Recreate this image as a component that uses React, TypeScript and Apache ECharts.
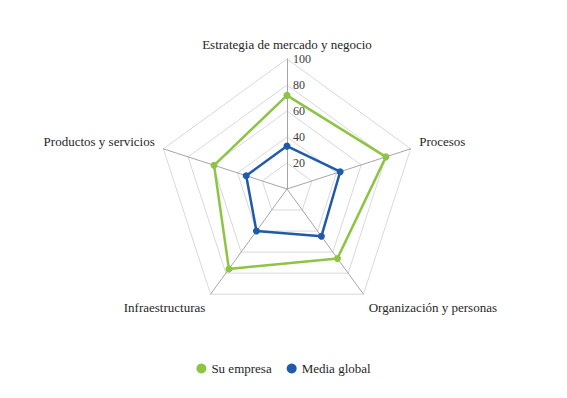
import React, { useEffect, useRef } from "react";
import * as echarts from "echarts";

const categories = [
  "Estrategia de mercado y negocio",
  "Procesos",
  "Organización y personas",
  "Infraestructuras",
  "Productos y servicios",
];
const suEmpresa = [72, 80, 66, 76, 59];
const mediaGlobal = [33, 43, 45, 40, 33];
const seriesNames = ["Su empresa", "Media global"];
const maxValue = 100;

const GREEN = "#8DC444";
const BLUE = "#1F5BAA";
const FONT = "Liberation Serif";
const NAME_COLOR = "#262626";

// ECharts draws radar axes counter-clockwise; reorder so the categories run clockwise.
const order = [0, 4, 3, 2, 1];
const reorder = (arr: any[]) => order.map((i) => arr[i]);
// rich style key for each original category (vertical nudging of the axis names)
const nameStyleKey = ["t", "up", "down", "down", "up"];

const nameRich = {
  t: { fontFamily: FONT, fontSize: 13, color: NAME_COLOR },
  up: { fontFamily: FONT, fontSize: 13, color: NAME_COLOR, padding: [0, 0, 10, 0] },
  down: { fontFamily: FONT, fontSize: 13, color: NAME_COLOR, padding: [13, 0, 0, 0] },
};

export default function App() {
  const ref = useRef<HTMLDivElement>(null);
  useEffect(() => {
    if (!ref.current) return;
    const chart = echarts.init(ref.current, null, { renderer: "svg" });
    chart.setOption({
      animation: false,
      backgroundColor: "#ffffff",
      legend: {
        data: seriesNames,
        bottom: 18,
        left: "center",
        icon: "circle",
        itemWidth: 10,
        itemHeight: 10,
        itemGap: 15,
        textStyle: { fontFamily: FONT, fontSize: 13, color: NAME_COLOR },
      },
      radar: {
        center: [287, 189],
        radius: 130,
        startAngle: 90,
        splitNumber: 5,
        shape: "polygon",
        nameGap: 9,
        axisName: {
          fontFamily: FONT,
          fontSize: 13,
          color: NAME_COLOR,
          formatter: (name: string) => {
            const idx = categories.indexOf(name);
            return "{" + nameStyleKey[idx] + "|" + name + "}";
          },
          rich: nameRich,
        },
        axisLine: { lineStyle: { color: "#a6a6a6", width: 1 } },
        splitLine: { lineStyle: { color: "#d9d9d9", width: 1 } },
        splitArea: { show: false },
        axisTick: { show: false },
        axisLabel: { show: false },
        indicator: reorder(categories).map((name: string, i: number) => {
          const base: any = {
            name,
            max: maxValue,
            min: 0,
            nameGap: i === 0 ? 8 : 9,
          };
          if (i === 0) {
            base.axisLabel = {
              show: true,
              showMinLabel: false,
              fontFamily: FONT,
              fontSize: 12,
              color: "#404040",
              align: "left",
              margin: -6,
            };
          }
          return base;
        }),
      },
      series: [
        {
          type: "radar",
          symbol: "circle",
          symbolSize: 7,
          data: [
            {
              name: seriesNames[0],
              value: reorder(suEmpresa),
              lineStyle: { color: GREEN, width: 2.5 },
              itemStyle: { color: GREEN },
            },
            {
              name: seriesNames[1],
              value: reorder(mediaGlobal),
              lineStyle: { color: BLUE, width: 2.5 },
              itemStyle: { color: BLUE },
            },
          ],
        },
      ],
    });
    return () => chart.dispose();
  }, []);
  return (
    <div
      ref={ref}
      style={{ position: "fixed", left: 0, top: 0, width: 567, height: 398 }}
    />
  );
}
